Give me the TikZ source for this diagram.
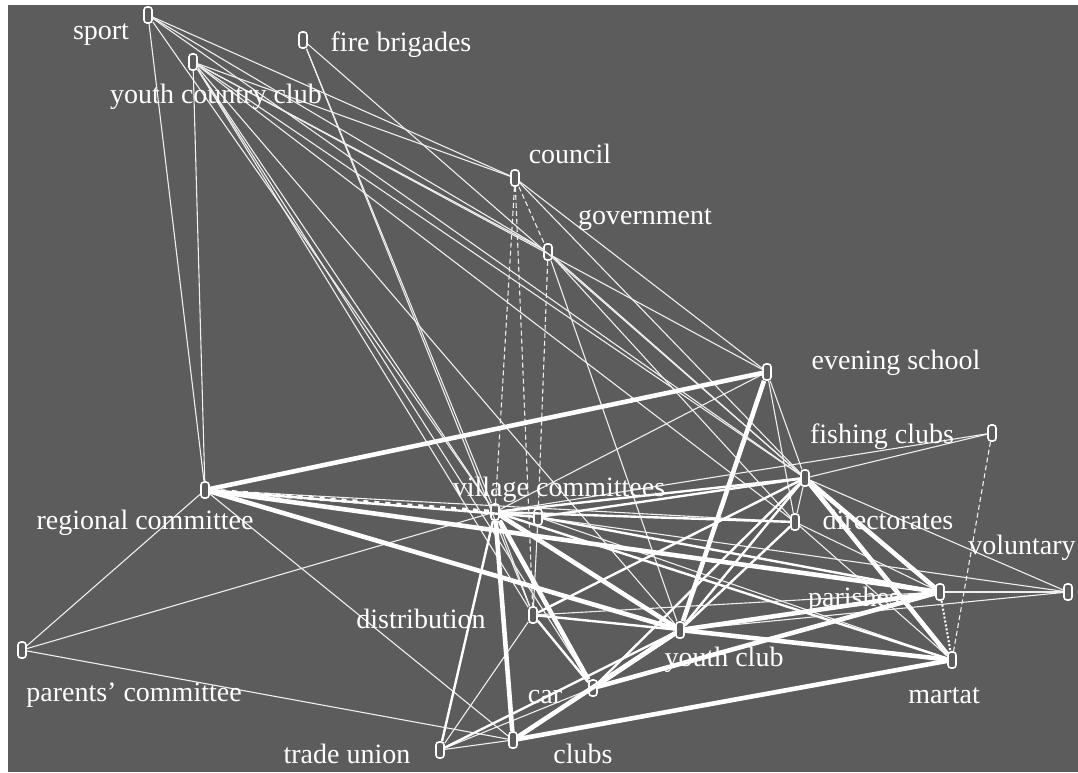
\documentclass[tikz,border=0pt]{standalone}
\usepackage{fontspec}
\setmainfont{Liberation Serif}
\definecolor{field}{gray}{0.36}
\begin{document}
\begin{tikzpicture}[x=1pt,y=-1pt,
  actor/.style={draw=white, line width=1.6pt, rounded corners=3pt,
    minimum width=8pt, minimum height=16pt, inner sep=0pt},
  lbl/.style={text=white, font=\fontsize{28}{32}\selectfont, inner sep=0pt,
    text height=19pt, text depth=6pt},
  tie/.style={draw=white!90!field, line width=1.1pt},
  tiedash/.style={tie, dashed, dash pattern=on 5pt off 3pt},
  tiedot/.style={draw=white, line width=2pt, dotted},
  mid/.style={draw=white, line width=2.4pt},
  heavy/.style={draw=white, line width=4.6pt},
  heavydot/.style={draw=white, line width=4pt, dash pattern=on 5pt off 6pt}
]
% canvas
\fill[white] (0,0) rectangle (1078,772);
\fill[field] (8,5) rectangle (1078,772);
\useasboundingbox (0,0) rectangle (1078,772);

% actors
\node[actor] (sp)  at (148,15)  {};
\node[actor] (fb)  at (303,40)  {};
\node[actor] (ycc) at (193,62)  {};
\node[actor] (co)  at (515,178) {};
\node[actor] (gov) at (548,252) {};
\node[actor] (es)  at (767,372) {};
\node[actor] (fc)  at (992,433) {};
\node[actor] (hub) at (805,478) {};
\node[actor] (dir) at (795,522) {};
\node[actor] (reg) at (205,490) {};
\node[actor] (vc)  at (495,512) {};
\node[actor] (vcb) at (538,517) {};
\node[actor] (dis) at (533,615) {};
\node[actor] (yc)  at (680,630) {};
\node[actor] (par) at (940,592) {};
\node[actor] (vol) at (1068,592) {};
\node[actor] (mar) at (952,660) {};
\node[actor] (pc)  at (22,650)  {};
\node[actor] (car) at (593,688) {};
\node[actor] (clu) at (513,740) {};
\node[actor] (tu)  at (440,750) {};

% thin ties
\foreach \a/\b in {sp/reg, ycc/reg, sp/co, sp/vc, sp/hub, sp/gov, ycc/vc, ycc/dis, ycc/car,
  ycc/hub, ycc/es, ycc/yc, ycc/dir, ycc/co, ycc/gov, fb/vc, fb/dis, fb/hub, co/hub, co/es,
  gov/hub, gov/dir, gov/yc, fc/hub, fc/vc, vol/par, vol/hub, vol/vcb, vol/yc,
  pc/reg, pc/vc, pc/clu, tu/dis, tu/car, tu/clu, reg/clu, hub/es, es/vc, es/dir,
  dir/par, dir/mar, hub/dir, vc/vcb, vc/dis, vcb/dis, reg/dir, vcb/mar, dis/par}
  \draw[tie] (\a) -- (\b);
\foreach \a/\b in {co/vc, co/dis, co/gov, gov/vcb, fc/mar}
  \draw[tiedash] (\a) -- (\b);
\draw[tiedot] (par) -- (mar);

% medium ties
\foreach \a/\b in {vc/hub, vcb/hub, vc/dir, reg/vcb, vcb/par, vc/mar, dis/yc, dis/car,
  tu/yc, tu/vc, clu/car, car/hub, yc/hub, yc/dir, dis/hub}
  \draw[mid] (\a) -- (\b);

% heavy ties
\foreach \a/\b in {reg/es, reg/yc, reg/par, vc/yc, es/yc, yc/mar, clu/mar, car/par,
  yc/car, vc/clu, vc/car, hub/mar, hub/par, yc/par, clu/yc}
  \draw[heavy] (\a) -- (\b);
\draw[heavydot] (reg) -- (vc);

% labels
\node[lbl] (sp-l)  at (101,33)  {sport};
\node[lbl] (fb-l)  at (401,45)  {fire brigades};
\node[lbl] (ycc-l) at (216,97)  {youth country club};
\node[lbl] (co-l)  at (570,157) {council};
\node[lbl] (gov-l) at (645,218) {government};
\node[lbl] (es-l)  at (896,363) {evening school};
\node[lbl] (fc-l)  at (882,437) {fishing clubs};
\node[lbl] (vc-l)  at (559,490) {village committees};
\node[lbl] (reg-l) at (145,523) {regional committee};
\node[lbl] (dir-l) at (888,523) {directorates};
\node[lbl] (vol-l) at (1022,548) {voluntary};
\node[lbl] (par-l) at (854,600) {parishes};
\node[lbl] (dis-l) at (421,622) {distribution};
\node[lbl] (yc-l)  at (724,660) {youth club};
\node[lbl] (pc-l)  at (134,695) {parents' committee};
\node[lbl] (car-l) at (545,697) {car};
\node[lbl] (mar-l) at (944,697) {martat};
\node[lbl] (tu-l)  at (347,757) {trade union};
\node[lbl] (clu-l) at (583,757) {clubs};
\end{tikzpicture}
\end{document}
